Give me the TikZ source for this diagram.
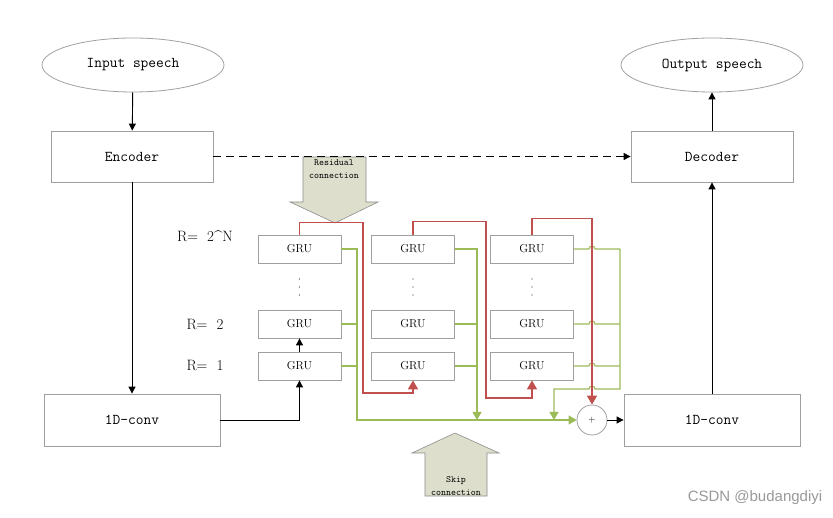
\documentclass[tikz,border=0pt]{standalone}
\usepackage{fontspec}
\newfontfamily\wmfont{Liberation Sans}
\usetikzlibrary{arrows.meta,shapes.geometric}

\definecolor{resred}{HTML}{C0504D}
\definecolor{skipgreen}{HTML}{9BBB59}
\definecolor{boxgray}{HTML}{A0A0A0}
\definecolor{arrowfill}{HTML}{DDDFCC}

\begin{document}
\begin{tikzpicture}[x=1pt,y=-1pt]
                  \tikzstyle{every node}+=[inner sep=0pt]
                  \tikzstyle{blk}=[draw=boxgray,line width=0.8pt,rectangle,font=\fontsize{15}{15}\ttfamily]
                  \tikzstyle{gru}=[draw=boxgray,line width=0.8pt,rectangle,minimum width=83pt,minimum height=28pt,font=\fontsize{11.5}{11.5}\selectfont]
                  \tikzstyle{spch}=[draw=boxgray,line width=0.8pt,ellipse,minimum width=182pt,minimum height=54pt,font=\fontsize{15}{15}\ttfamily]
                  \tikzstyle{flow}=[black,line width=0.9pt,-{Triangle[length=7pt,width=7pt]}]
                  \tikzstyle{res}=[resred,line width=1.8pt,-{Triangle[length=9pt,width=10pt]}]
                  \tikzstyle{skp}=[skipgreen,line width=1.1pt]
                  \tikzstyle{skparr}=[skp,-{Triangle[length=8pt,width=9pt]}]
                  \tikzstyle{rlab}=[font=\fontsize{15}{15}\selectfont]
                  \tikzstyle{bigarr}=[draw=black!45,fill=arrowfill,line width=0.6pt]
                  \tikzstyle{bigtxt}=[font=\fontsize{9.5}{13}\ttfamily,align=center]
                  \useasboundingbox (0,0) rectangle (833,518);
                  \node [spch] (inspeech) at (133,65) {Input speech};
                  \node [spch] (outspeech) at (712,65) {Output speech};
                  \node [blk,minimum width=162pt,minimum height=51pt] (enc) at (132,156.5) {Encoder};
                  \node [blk,minimum width=162pt,minimum height=51pt] (dec) at (712,156.5) {Decoder};
                  \node [blk,minimum width=176pt,minimum height=52pt] (convL) at (132,420) {1D-conv};
                  \node [blk,minimum width=176pt,minimum height=52pt] (convR) at (712,420) {1D-conv};
                  \foreach \c/\x in {1/299.5,2/413,3/532} {
                    \node [gru] (g\c N) at (\x,249) {GRU};
                    \node [gru] (g\c2) at (\x,324) {GRU};
                    \node [gru] (g\c1) at (\x,366) {GRU};
                    \foreach \y in {279,287,295}
                      \fill [black!80] (\x,\y) circle (0.7);
                  }
                  \node [rlab] (rN) at (205,236) {R=\ \ 2\textasciicircum N};
                  \node [rlab] (r2) at (205,324) {R=\ \ 2};
                  \node [rlab] (r1) at (205,365) {R=\ \ 1};
                  \node [draw=boxgray,circle,minimum size=30pt,line width=0.8pt,font=\small] (sum) at (592,420) {+};
                  \filldraw [bigarr] (303,157) -- (366,157) -- (366,202) -- (378,202) -- (335,223) -- (290,202) -- (303,202) -- cycle;
                  \node [bigtxt] (restxt) at (334,169) {Residual\\connection};
                  \filldraw [bigarr] (455,433) -- (499,453) -- (487,453) -- (487,496) -- (425,496) -- (425,453) -- (412,453) -- cycle;
                  \node [bigtxt] (skiptxt) at (456,486) {Skip\\connection};
                  \draw [flow] (inspeech) -- (enc);
                  \draw [flow,dash pattern=on 8pt off 5pt] (enc) -- (dec);
                  \draw [flow] (dec) -- (outspeech);
                  \draw [flow] (enc) -- (convL);
                  \draw [flow] (convR) -- (dec);
                  \draw [flow] (convL.east) -| (g11.south);
                  \draw [flow] (g11) -- (g12);
                  \draw [flow] (sum) -- (convR);
                  \coordinate (k1) at (357,420);
                  \coordinate (k2) at (477,420);
                  \coordinate (k3) at (620,389);
                  \coordinate (k4) at (554,420);
                  \draw [skparr] (g1N.east) -| (k1) -- (sum.west);
                  \draw [skp] (g12.east) -- (g12.east -| k1);
                  \draw [skp] (g11.east) -- (g11.east -| k1);
                  \draw [skparr] (g2N.east) -| (k2);
                  \draw [skp] (g22.east) -- (g22.east -| k2);
                  \draw [skp] (g21.east) -- (g21.east -| k2);
                  \foreach \g in {g3N,g32,g31}
                    \draw [skp] (\g.east) -- ([xshift=-3pt]\g.east -| sum) arc [start angle=180,end angle=0,radius=3pt] -- (\g.east -| k3);
                  \draw [skparr] (g3N.east -| k3) -- (k3) -- ([xshift=3pt]k3 -| sum) arc [start angle=0,end angle=180,radius=3pt] -| (k4);
                  \draw [res] (g1N.north) -- ++(0,-12) -| (363,393) -| (g21.south);
                  \draw [res] (g2N.north) -- ++(0,-13) -| (486,398) -| (g31.south);
                  \draw [res] (g3N.north) -- ++(0,-16) -| (sum.north);
                  \node [font=\wmfont\fontsize{15}{15}\selectfont,text=black!40] (wm) at (755,498) {CSDN @budangdiyi};
              \end{tikzpicture}
\end{document}
